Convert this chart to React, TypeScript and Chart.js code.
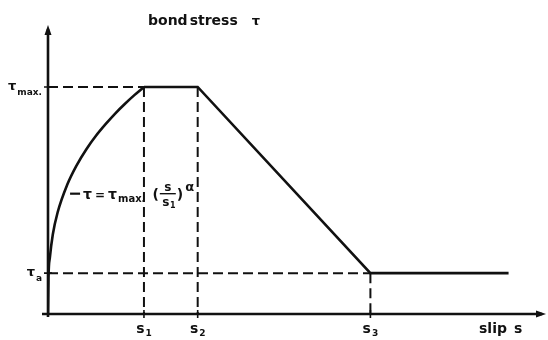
import { useEffect, useRef } from "react";
import { Chart, registerables } from "chart.js";

Chart.register(...registerables);

// Rising branch tau = tau_max * (s / s1)^alpha, read at a handful of slips
const curveSlip = [0, 0.005, 0.02, 0.05, 0.1, 0.2, 0.3, 0.4, 0.5, 0.6, 0.7, 0.8, 0.9, 1.0];
const curveStress = [0, 0.16, 0.25, 0.35, 0.447, 0.569, 0.656, 0.726, 0.785, 0.836, 0.883, 0.925, 0.964, 1.0];

// Plateau, linear softening and residual branch
const branchSlip = [1.0, 1.56, 3.36, 4.8];
const branchStress = [1.0, 1.0, 0.18, 0.18];

// Characteristic slips s1, s2, s3 and stresses tau_max, tau_a
const slipMarks = [1.0, 1.56, 3.36];
const slipMarkSubs = ["1", "2", "3"];
const stressMarks = [1.0, 0.18];
const stressMarkSubs = ["max.", "a"];

const AXIS_MAX_X = 5.19;
const AXIS_MAX_Y = 1.273;

const INK = "#111111";
const FONT = "'DejaVu Sans', sans-serif";

type Part = { t: string; size: number; dy?: number; dx?: number };

function partsWidth(ctx: CanvasRenderingContext2D, parts: Part[]) {
  let w = 0;
  for (const p of parts) {
    ctx.font = `bold ${p.size}px ${FONT}`;
    w += ctx.measureText(p.t).width + (p.dx || 0);
  }
  return w;
}

function drawParts(ctx: CanvasRenderingContext2D, x: number, y: number, parts: Part[]) {
  let cx = x;
  for (const p of parts) {
    ctx.font = `bold ${p.size}px ${FONT}`;
    cx += p.dx || 0;
    ctx.fillText(p.t, cx, y + (p.dy || 0));
    cx += ctx.measureText(p.t).width;
  }
  return cx;
}

const pairs = (xs: number[], ys: number[]) => xs.map((x, i) => ({ x, y: ys[i] }));

const axesAndLabels = {
  id: "axesAndLabels",
  afterDatasetsDraw(chart: any) {
    const { ctx } = chart;
    const xs = chart.scales.x;
    const ys = chart.scales.y;
    const x0 = xs.getPixelForValue(0);
    const y0 = ys.getPixelForValue(0);
    const xEnd = xs.getPixelForValue(AXIS_MAX_X);
    const yTop = ys.getPixelForValue(AXIS_MAX_Y);

    ctx.save();
    ctx.strokeStyle = INK;
    ctx.fillStyle = INK;
    ctx.lineWidth = 2.6;
    ctx.lineCap = "butt";

    // axes
    ctx.beginPath();
    ctx.moveTo(x0 - 6, y0);
    ctx.lineTo(xEnd - 4, y0);
    ctx.moveTo(x0, y0 + 3);
    ctx.lineTo(x0, yTop + 4);
    ctx.stroke();

    // arrowheads
    ctx.beginPath();
    ctx.moveTo(xEnd, y0);
    ctx.lineTo(xEnd - 10, y0 - 3.5);
    ctx.lineTo(xEnd - 10, y0 + 3.5);
    ctx.closePath();
    ctx.fill();
    ctx.beginPath();
    ctx.moveTo(x0, yTop);
    ctx.lineTo(x0 - 3.5, yTop + 10);
    ctx.lineTo(x0 + 3.5, yTop + 10);
    ctx.closePath();
    ctx.fill();

    // tick marks on both axes
    ctx.lineWidth = 1.6;
    ctx.beginPath();
    for (const s of slipMarks) {
      const px = xs.getPixelForValue(s);
      ctx.moveTo(px, y0 - 4);
      ctx.lineTo(px, y0 + 4);
    }
    for (const t of stressMarks) {
      const py = ys.getPixelForValue(t);
      ctx.moveTo(x0 - 4, py);
      ctx.lineTo(x0 + 4, py);
    }
    ctx.stroke();

    ctx.textBaseline = "alphabetic";

    // slip labels s1, s2, s3
    slipMarks.forEach((s, i) => {
      const parts: Part[] = [
        { t: "s", size: 14 },
        { t: slipMarkSubs[i], size: 9, dy: 3, dx: 1 },
      ];
      const w = partsWidth(ctx, parts);
      drawParts(ctx, xs.getPixelForValue(s) - w / 2, y0 + 19, parts);
    });

    // stress labels tau_max, tau_a
    stressMarks.forEach((t, i) => {
      const parts: Part[] = [
        { t: "τ", size: 13 },
        { t: stressMarkSubs[i], size: 9, dy: 5, dx: 1 },
      ];
      const w = partsWidth(ctx, parts);
      drawParts(ctx, x0 - 6 - w, ys.getPixelForValue(t) + 3, parts);
    });

    // axis titles
    drawParts(ctx, 148, 25, [
      { t: "bond", size: 14 },
      { t: "stress", size: 14, dx: 2 },
      { t: "τ", size: 13, dx: 14 },
    ]);
    drawParts(ctx, 479, y0 + 19, [
      { t: "slip", size: 14 },
      { t: "s", size: 14, dx: 7 },
    ]);

    // formula of the rising branch with a leader to the curve
    const fy = ys.getPixelForValue(0.53);
    const fx = xs.getPixelForValue(0.23);
    ctx.lineWidth = 2.2;
    ctx.beginPath();
    ctx.moveTo(fx, fy);
    ctx.lineTo(fx + 10, fy);
    ctx.stroke();
    let cx = drawParts(ctx, fx + 13, fy + 5, [
      { t: "τ", size: 14 },
      { t: "=", size: 12, dx: 3 },
      { t: "τ", size: 14, dx: 3 },
      { t: "max.", size: 10, dy: 3, dx: 1 },
      { t: "(", size: 14, dx: 7 },
    ]);
    ctx.font = `bold 12px ${FONT}`;
    const fracW = 18;
    ctx.textAlign = "center";
    ctx.fillText("s", cx + fracW / 2, fy - 3);
    ctx.lineWidth = 1.4;
    ctx.beginPath();
    ctx.moveTo(cx + 1, fy);
    ctx.lineTo(cx + fracW - 1, fy);
    ctx.stroke();
    ctx.fillText("s", cx + fracW / 2 - 2, fy + 12);
    ctx.font = `bold 8px ${FONT}`;
    ctx.fillText("1", cx + fracW / 2 + 5, fy + 14);
    ctx.textAlign = "left";
    cx = drawParts(ctx, cx + fracW, fy + 5, [{ t: ")", size: 14 }]);
    drawParts(ctx, cx + 2, fy - 3, [{ t: "α", size: 13 }]);

    ctx.restore();
  },
};

export default function App() {
  const ref = useRef<HTMLCanvasElement>(null);

  useEffect(() => {
    if (!ref.current) return;
    const dashed = (data: { x: number; y: number }[]) => ({
      data,
      showLine: true,
      borderColor: INK,
      borderWidth: 2,
      borderDash: [10, 5],
      pointRadius: 0,
      fill: false,
    });
    const s1 = slipMarks[0];
    const s2 = slipMarks[1];
    const s3 = slipMarks[2];
    const tMax = stressMarks[0];
    const tRes = stressMarks[1];

    const chart = new Chart(ref.current, {
      type: "scatter",
      data: {
        datasets: [
          dashed([{ x: 0, y: tMax }, { x: s1, y: tMax }]),
          dashed([{ x: s1, y: tMax }, { x: s1, y: 0 }]),
          dashed([{ x: s2, y: tMax }, { x: s2, y: 0 }]),
          dashed([{ x: 0, y: tRes }, { x: s3, y: tRes }]),
          dashed([{ x: s3, y: tRes }, { x: s3, y: 0 }]),
          {
            data: pairs(curveSlip, curveStress),
            showLine: true,
            borderColor: INK,
            borderWidth: 2.6,
            pointRadius: 0,
            cubicInterpolationMode: "monotone",
            fill: false,
          },
          {
            data: pairs(branchSlip, branchStress),
            showLine: true,
            borderColor: INK,
            borderWidth: 2.6,
            pointRadius: 0,
            tension: 0,
            fill: false,
          },
        ] as any,
      },
      options: {
        animation: false,
        responsive: true,
        maintainAspectRatio: false,
        layout: { padding: { left: 48, right: 2, top: 25, bottom: 26 } },
        plugins: { legend: { display: false }, tooltip: { enabled: false } },
        scales: {
          x: { type: "linear", display: false, min: 0, max: AXIS_MAX_X },
          y: { type: "linear", display: false, min: 0, max: AXIS_MAX_Y },
        },
      },
      plugins: [axesAndLabels],
    });
    return () => chart.destroy();
  }, []);

  return (
    <div
      style={{
        position: "fixed",
        left: 0,
        top: 0,
        width: 548,
        height: 340,
        background: "#ffffff",
      }}
    >
      <canvas ref={ref} />
    </div>
  );
}
